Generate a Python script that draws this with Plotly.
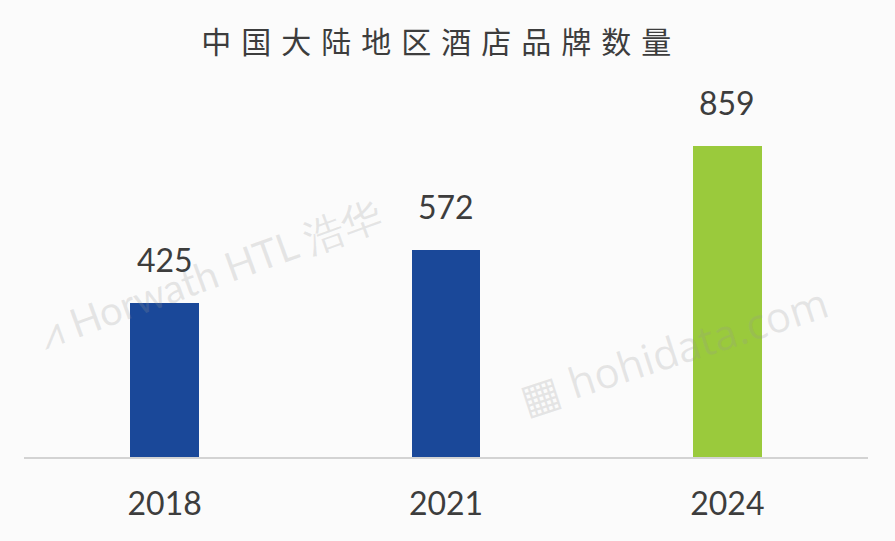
import plotly.graph_objects as go

years = ["2018", "2021", "2024"]
counts = [425, 572, 859]
bar_colors = ["#1a4899", "#1a4899", "#9aca3c"]
title_text = "中国大陆地区酒店品牌数量"

fig = go.Figure()
fig.add_trace(go.Bar(
    x=years, y=counts, marker=dict(color=bar_colors, line=dict(width=0)),
    width=0.245, hoverinfo="skip", showlegend=False,
))

for i, v in enumerate(counts):
    fig.add_annotation(x=i, y=v, text=str(v), showarrow=False, yanchor="bottom",
                       yshift=22, font=dict(family="Lato, Noto Sans", size=32, color="#3d3d3d"))

# faint watermarks
fig.add_annotation(xref="paper", yref="paper", x=0.22, y=0.46, xanchor="center", yanchor="middle",
                   text="⩘ Horwath HTL 浩华",
                   showarrow=False, textangle=-20, font=dict(family="Lato", size=40, color="rgba(150,150,150,0.22)"))
fig.add_annotation(xref="paper", yref="paper", x=0.77, y=0.27, xanchor="center", yanchor="middle",
                   text="▦ hohidata.com",
                   showarrow=False, textangle=-18, font=dict(family="Open Sans", size=42, color="rgba(150,150,150,0.22)"))

spaced_title = "\u2004".join(title_text)
fig.update_layout(
    width=895, height=541,
    margin=dict(l=24, r=27, t=60, b=84),
    paper_bgcolor="#fbfbfb", plot_bgcolor="rgba(0,0,0,0)",
    title=dict(text=spaced_title, x=0.4875, xanchor="center", y=0.922, yanchor="middle",
               font=dict(family="Noto Sans CJK SC", size=30, color="#3d3d3d")),
    xaxis=dict(type="category", range=[-0.5, 2.5], showgrid=False, showline=True,
               linecolor="#d3d3d3", linewidth=2,
               ticks="", tickfont=dict(family="Lato, Noto Sans", size=32, color="#3d3d3d"),
               ticklabelstandoff=18),
    yaxis=dict(visible=False, range=[0, 1097]),
    bargap=0,
)
fig.write_html("out.html")
